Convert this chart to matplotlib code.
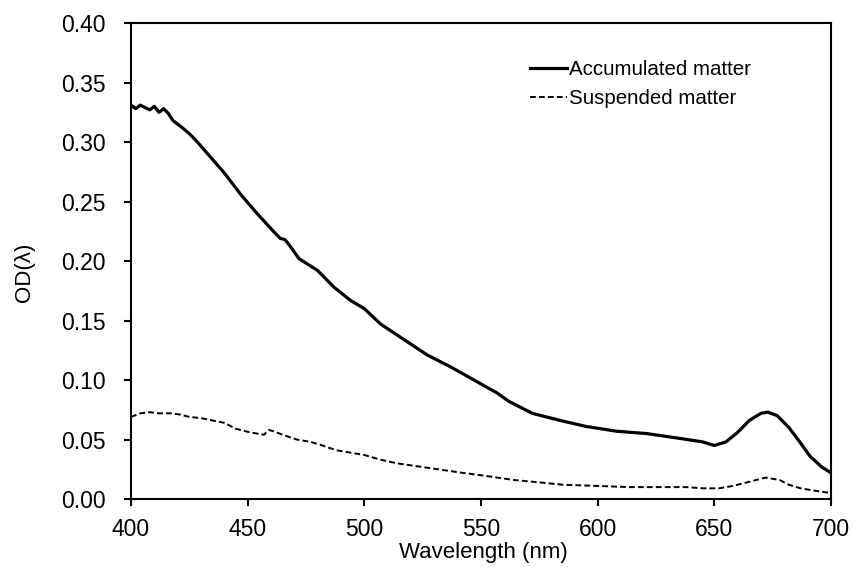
import matplotlib
matplotlib.use("Agg")
import matplotlib.pyplot as plt

# values
acc_wl = [400, 402, 404, 406, 408, 410, 412, 414, 416, 418, 422, 425, 428, 432, 436, 440,
          447, 454, 461, 464, 466, 468, 472, 480, 487, 494, 500, 507, 517, 527, 537,
          547, 557, 562, 572, 584, 595, 608, 621, 635, 645, 650, 655, 660, 665, 670,
          673, 677, 682, 687, 691, 696, 700]
acc_od = [0.331, 0.328, 0.331, 0.329, 0.327, 0.330, 0.325, 0.328, 0.324, 0.318, 0.312, 0.307,
          0.301, 0.292, 0.283, 0.274, 0.256, 0.240, 0.225, 0.219, 0.218, 0.213, 0.202,
          0.192, 0.178, 0.167, 0.160, 0.147, 0.134, 0.121, 0.111, 0.100, 0.089, 0.082,
          0.072, 0.066, 0.061, 0.057, 0.055, 0.051, 0.048, 0.045, 0.048, 0.056, 0.066,
          0.072, 0.073, 0.070, 0.060, 0.047, 0.036, 0.027, 0.022]

susp_wl = [400, 404, 408, 412, 417, 421, 425, 430, 435, 440, 445, 451, 457, 459, 461, 465,
           471, 477, 482, 488, 494, 500, 507, 514, 521, 528, 535, 542, 550, 557, 564,
           575, 585, 600, 614, 626, 638, 645, 652, 658, 664, 668, 672, 675, 678, 682,
           687, 693, 700]
susp_od = [0.069, 0.072, 0.073, 0.072, 0.072, 0.071, 0.069, 0.068, 0.066, 0.064, 0.059,
           0.056, 0.054, 0.058, 0.057, 0.054, 0.050, 0.048, 0.045, 0.041, 0.039, 0.037,
           0.033, 0.030, 0.028, 0.026, 0.024, 0.022, 0.020, 0.018, 0.016, 0.014, 0.012,
           0.011, 0.010, 0.010, 0.010, 0.009, 0.009, 0.011, 0.014, 0.016, 0.018, 0.017,
           0.016, 0.012, 0.009, 0.007, 0.005]

x_ticks = [400, 450, 500, 550, 600, 650, 700]
y_ticks = [0.00, 0.05, 0.10, 0.15, 0.20, 0.25, 0.30, 0.35, 0.40]

plt.rcParams['font.family'] = ['Liberation Sans', 'DejaVu Sans']

fig = plt.figure(figsize=(8.54, 5.67), dpi=100)
ax = fig.add_axes([0.1534, 0.1199, 0.8196, 0.8395])

ax.plot(acc_wl, acc_od, color='black', lw=2.3, label='Accumulated matter')
ax.plot(susp_wl, susp_od, color='black', lw=1.4, linestyle=(0, (3, 1.6)),
        label='Suspended matter')

ax.set_xlim(400, 700)
ax.set_ylim(0, 0.40)
ax.set_xticks(x_ticks)
ax.set_yticks(y_ticks)
ax.set_yticklabels([f"{v:.2f}" for v in y_ticks])

for s in ax.spines.values():
    s.set_linewidth(1.5)
ax.tick_params(direction='out', length=5, width=1.5, labelsize=16.5)
ax.tick_params(axis='y', pad=13)
ax.tick_params(axis='x', pad=9)

ax.set_xlabel("Wavelength (nm)", fontsize=16)
ax.set_ylabel("OD(λ)", fontsize=16)
ax.xaxis.set_label_coords(0.504, -0.091)
ax.yaxis.set_label_coords(-0.137, 0.477)

ax.legend(loc='upper left', bbox_to_anchor=(0.5586, 0.94), frameon=False, fontsize=14.8,
          handlelength=1.8, handletextpad=0.1, labelspacing=0.5, borderaxespad=0)

fig.savefig("out.png", dpi=100)
